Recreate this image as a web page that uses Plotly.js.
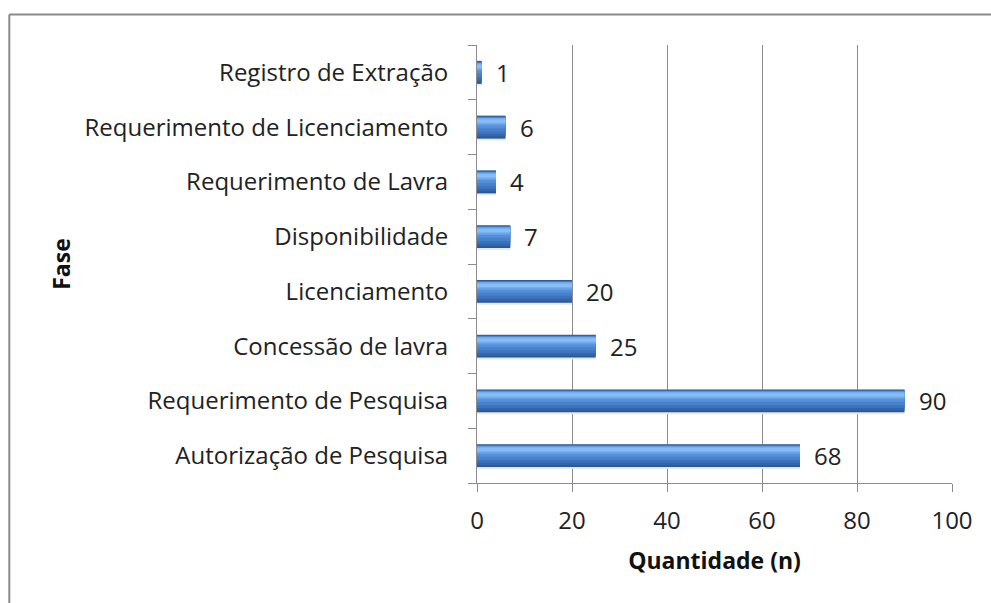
<!DOCTYPE html>
<html>
<head>
<meta charset="utf-8">
<script src="https://cdn.plot.ly/plotly-3.0.1.min.js"></script>
<style>html,body{margin:0;padding:0;background:#fff;}#chart{width:991px;height:603px;}</style>
</head>
<body>
<div id="chart"></div>
<script>
const categories = ["Autorização de Pesquisa","Requerimento de Pesquisa","Concessão de lavra","Licenciamento","Disponibilidade","Requerimento de Lavra","Requerimento de Licenciamento","Registro de Extração"];
const values = [68, 90, 25, 20, 7, 4, 6, 1];
const xTicks = [0, 20, 40, 60, 80, 100];

const W = 991, H = 603;
const M = {l: 477, r: 39, t: 45, b: 120};
const pw = W - M.l - M.r, ph = H - M.t - M.b;
const px = x => (x - M.l) / pw;
const py = y => (H - M.b - y) / ph;

const font = "Open Sans, sans-serif";

// gradient layers (style only): [offset, width, color]
const layers = [
  [-0.245, 0.45, "#e8e8e8"],
  [-0.21, 0.42, "#2a5894"],
  [-0.175, 0.37, "#3465a8"],
  [-0.13, 0.32, "#3c73bb"],
  [-0.08, 0.26, "#4682cc"],
  [-0.02, 0.19, "#558fd9"],
  [0.03, 0.14, "#66a0e6"],
  [0.06, 0.10, "#76afef"],
  [0.08, 0.06, "#88bcf4"]
];
const traces = layers.map(([off, w, col]) => ({
  type: "bar", orientation: "h", y: categories, x: values,
  offset: off, width: w, marker: {color: col, line: {width: 0}},
  hoverinfo: "skip", showlegend: false
}));

const annotations = categories.map((c, i) => ({
  x: values[i], y: c, xref: "x", yref: "y", text: String(values[i]),
  xanchor: "left", yanchor: "middle", xshift: 12, showarrow: false,
  font: {family: font, size: 24, color: "#222"}
}));

const layout = {
  width: W, height: H,
  margin: M,
  paper_bgcolor: "#fff", plot_bgcolor: "#fff",
  barmode: "overlay",
  font: {family: font, size: 24, color: "#222"},
  xaxis: {
    range: [0, 100], tickvals: xTicks, ticktext: xTicks.map(String),
    showgrid: true, gridcolor: "#8c8c8c", gridwidth: 1,
    showline: true, linecolor: "#8c8c8c", linewidth: 1,
    ticks: "outside", ticklen: 8, tickcolor: "#8c8c8c",
    ticklabelstandoff: 8, zeroline: false, fixedrange: true,
    tickfont: {family: font, size: 24, color: "#222"},
    title: {text: "Quantidade (n)", standoff: 18, font: {family: font, size: 23, color: "#111", weight: "bold"}}
  },
  yaxis: {
    type: "category", categoryorder: "array", categoryarray: categories,
    tickson: "boundaries", ticks: "outside", ticklen: 8, tickcolor: "#8c8c8c",
    showline: true, linecolor: "#8c8c8c", linewidth: 1, showgrid: false,
    ticklabelstandoff: 23, fixedrange: true,
    tickfont: {family: font, size: 24, color: "#222"},
    title: {text: "Fase", standoff: 7, font: {family: font, size: 23, color: "#111", weight: "bold"}}
  },
  annotations: annotations,
  shapes: [
    {type: "line", xref: "paper", yref: "paper", x0: px(9.3), x1: px(1000), y0: py(14.5), y1: py(14.5), line: {color: "#8a8a8a", width: 2}},
    {type: "line", xref: "paper", yref: "paper", x0: px(9.3), x1: px(9.3), y0: py(14.5), y1: py(620), line: {color: "#8a8a8a", width: 2}}
  ]
};

Plotly.newPlot("chart", traces, layout, {displayModeBar: false, staticPlot: true});
</script>
</body>
</html>
